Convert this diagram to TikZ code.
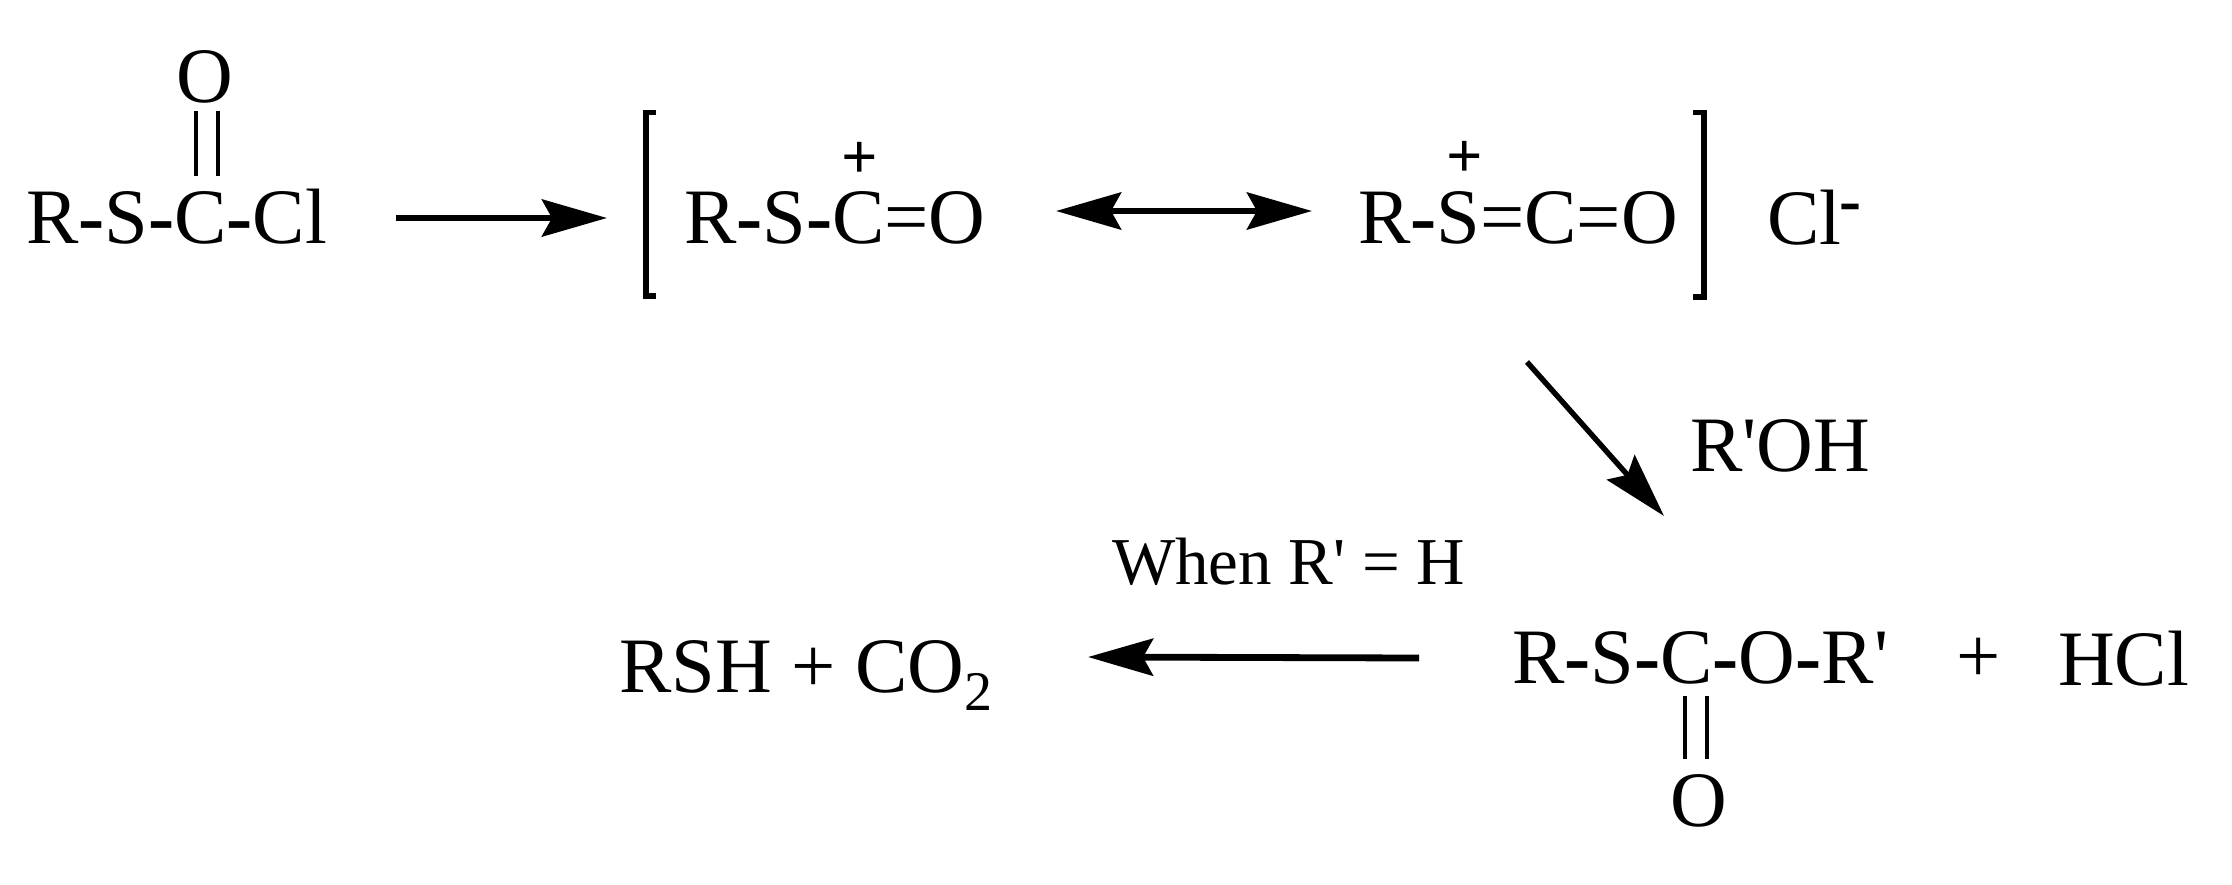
\documentclass[tikz,border=0pt]{standalone}
\usepackage{fontspec}
\usetikzlibrary{arrows.meta}
\newfontfamily\tms{Liberation Serif}
\newcommand{\bd}{{\bfseries -}}
\tikzset{
  x=0.5pt, y=-0.5pt,
  chem/.style={anchor=base west, inner sep=0pt, outer sep=0pt, font=\tms\fontsize{39.25}{42}\selectfont},
  small/.style={anchor=base west, inner sep=0pt, outer sep=0pt, font=\tms\fontsize{33.5}{36}\selectfont},
  charge/.style={anchor=center, inner sep=0pt, outer sep=0pt, font=\tms\bfseries\fontsize{32}{34}\selectfont},
  rxn/.style={line width=3.4pt, -{Stealth[length=32.5pt,width=18.5pt,inset=5pt]}},
  resonance/.style={line width=3.4pt, {Stealth[length=32.5pt,width=18.5pt,inset=5pt]}-{Stealth[length=32.5pt,width=18.5pt,inset=5pt]}},
  dbl/.style={line width=2pt, double, double distance=9pt},
  brk/.style={line width=2.7pt, line cap=butt, line join=miter}
}
\begin{document}
\begin{tikzpicture}
\useasboundingbox (0,0) rectangle (2232,884);
\fill[white] (0,0) rectangle (2232,884);
% texts
\node[chem] (rscocl) at (26,243) {R\bd S\bd C\bd Cl};
\node[chem] (oa) at (176,102) {O};
\node[chem] (cation) at (684,243) {R\bd S\bd C=O};
\node[charge] (pa) at (860,160) {+};
\node[chem] (thio) at (1358,243) {R\bd S=C=O};
\node[charge] (pb) at (1465,159) {+};
\node[chem] (cl) at (1767,244) {Cl};
\node[anchor=base west, inner sep=0pt, font=\tms\bfseries\fontsize{33}{35}\selectfont] (minus) at (1839,222) {-};
\node[chem] (roh) at (1690,471) {R'OH};
\node[small] (when) at (1112,584) {When R' = H};
\node[chem] (rsh) at (619,692) {RSH + CO};
\node[anchor=base west, inner sep=0pt, font=\tms\fontsize{28}{30}\selectfont] (two) at (rsh.base east) [yshift=-9pt] {2};
\node[chem] (ester) at (1512,683) {R\bd S\bd C\bd O\bd R'};
\node[chem] (plus) at (1956,682) {+};
\node[chem] (hcl) at (2058,685) {HCl};
\node[chem] (ob) at (1670,826) {O};
% bonds
\coordinate (b1a) at (207,176); \coordinate (b1b) at (207,111);
\coordinate (b2a) at (1696,696); \coordinate (b2b) at (1696,759);
\draw[dbl] (b1a) -- (b1b);
\draw[dbl] (b2a) -- (b2b);
% brackets
\coordinate (la) at (656,112.5); \coordinate (lb) at (646,112.5); \coordinate (lc) at (646,296); \coordinate (ld) at (656,296);
\coordinate (ra) at (1693,112.5); \coordinate (rb) at (1704,112.5); \coordinate (rc) at (1704,297); \coordinate (rd) at (1693,297);
\draw[brk] (la) -- (lb) -- (lc) -- (ld);
\draw[brk] (ra) -- (rb) -- (rc) -- (rd);
% arrows
\coordinate (a1s) at (396,218); \coordinate (a1e) at (607,218);
\coordinate (a2s) at (1056,211); \coordinate (a2e) at (1312,211);
\coordinate (a3s) at (1527,362); \coordinate (a3e) at (1664,516);
\coordinate (a4s) at (1419,658); \coordinate (a4e) at (1088,657);
\draw[rxn] (a1s) -- (a1e);
\draw[resonance] (a2s) -- (a2e);
\draw[rxn, line width=2.7pt] (a3s) -- (a3e);
\draw[rxn] (a4s) -- (a4e);
\end{tikzpicture}
\end{document}
